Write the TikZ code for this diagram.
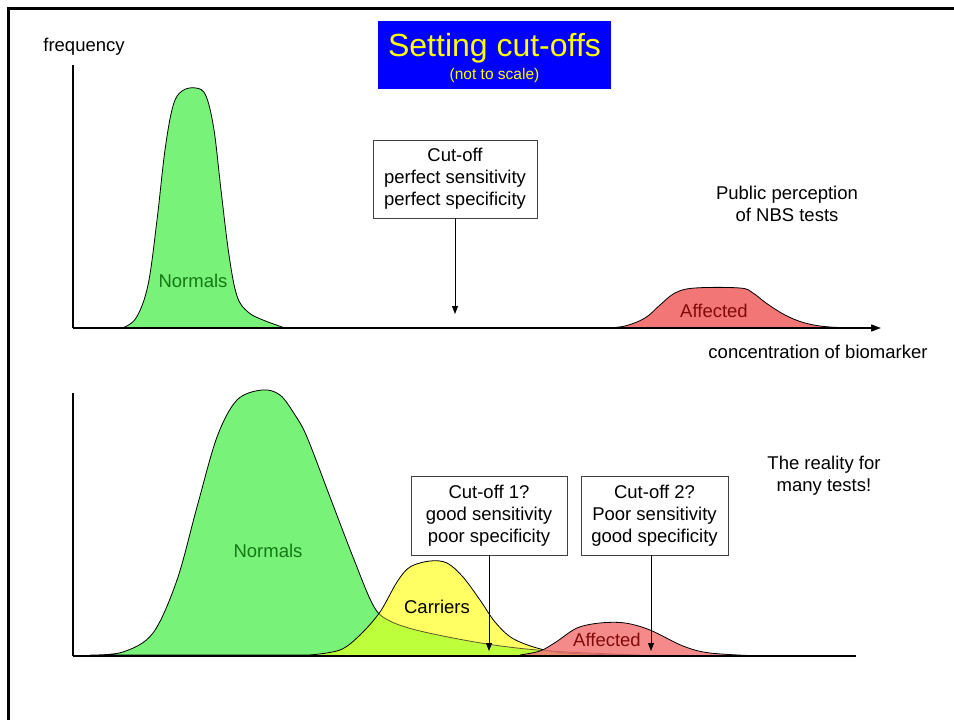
\documentclass[tikz,border=0pt]{standalone}
\usepackage{fontspec}
\setmainfont{Liberation Sans}
\usetikzlibrary{arrows.meta}
\definecolor{ngreen}{RGB}{120,242,120}
\definecolor{nyellow}{RGB}{255,255,100}
\definecolor{gyover}{RGB}{190,255,60}
\definecolor{nred}{RGB}{242,118,118}
\definecolor{dgreen}{RGB}{20,120,20}
\definecolor{dred}{RGB}{130,10,10}
\definecolor{tblue}{RGB}{0,0,255}
\definecolor{tyellow}{RGB}{255,255,0}
\tikzset{
  txt/.style={font=\fontsize{18.5}{22}\selectfont, align=center, inner sep=0pt},
  cutbox/.style={draw=black!75, line width=0.9pt, fill=white, font=\fontsize{18.5}{22}\selectfont, align=center, inner sep=0pt},
  axis/.style={line width=1.6pt, black},
  curve/.style={line width=0.8pt, black},
  pointer/.style={line width=0.9pt, -{Triangle[length=8pt,width=6pt]}},
}
\def\greenpath{plot[smooth, tension=0.55] coordinates {(90,655) (123,652) (153,633) (177,580) (197,507) (217,437) (237,400) (262,390) (280,395) (295,415) (307,437) (330,497) (353,557) (373,605) (388,620) (420,631) (487,644) (550,651) (640,655)}}
\def\yellowpath{plot[smooth, tension=0.55] coordinates {(310,655) (340,650) (360,635) (380,612) (397,582) (410,567) (430,561) (447,563) (463,577) (480,600) (495,622) (512,638) (537,648) (565,653) (620,655)}}
\def\redpath{plot[smooth, tension=0.55] coordinates {(520,655) (540,651) (556,642) (577,628) (600,623) (625,623) (650,630) (683,646) (710,653) (760,656)}}
\begin{document}
\begin{tikzpicture}[x=1pt,y=-1pt]
\useasboundingbox (0,0) rectangle (954,720);
% frame
\draw[line width=3pt] (954,8) -- (8,8) -- (8,720);
% title
\node[fill=tblue, minimum width=233pt, minimum height=68pt, inner sep=0pt] (title) at (494.5,55) {};
\node[text=tyellow, font=\fontsize{32}{34}\selectfont, inner sep=0pt] (ttl) at (494.5,48) {Setting cut-offs};
\node[text=tyellow, font=\fontsize{15.5}{17}\selectfont, inner sep=0pt] (sub) at (494.5,75) {(not to scale)};
\node[txt] (freq) at (84,47) {frequency};

% ---------- top panel ----------
\coordinate (ty0) at (73,65);
\coordinate (to) at (73,328);
\coordinate (tx1) at (881,328);
\filldraw[curve, fill=ngreen] plot[smooth, tension=0.6] coordinates {(122,328) (136,318) (148,285) (157,220) (165,150) (173,106) (182,91) (196,88) (206,96) (214,130) (221,190) (229,255) (237,296) (248,312) (263,320) (285,328)} -- cycle;
\filldraw[curve, fill=nred] plot[smooth, tension=0.6] coordinates {(605,328) (625,326) (645,318) (660,305) (675,293) (695,288) (740,288) (753,293) (766,303) (785,315) (805,323) (830,327) (870,328)} -- cycle;
\draw[axis] (ty0) -- (to);
\draw[axis, -{Triangle[length=10pt,width=7pt]}] (to) -- (tx1);
\node[txt, text=dgreen] (norm1) at (193,281) {Normals};
\node[txt, text=dred] (aff1) at (714,311) {Affected};
\node[cutbox, minimum width=164pt, minimum height=78pt] (cut0) at (455,179) {Cut-off\\perfect sensitivity\\perfect specificity};
\coordinate (cut0tip) at (455,314);
\draw[pointer] (cut0.south) -- (cut0tip);
\node[txt] (pub) at (787,204) {Public perception\\of NBS tests};
\node[txt] (conc) at (818,352) {concentration of biomarker};

% ---------- bottom panel ----------
\coordinate (by0) at (73,393);
\coordinate (bo) at (73,656);
\coordinate (bx1) at (856,656);
\filldraw[curve, fill=ngreen] \greenpath -- cycle;
\fill[nyellow] \yellowpath -- cycle;
\begin{scope}
  \clip \greenpath -- cycle;
  \fill[gyover] \yellowpath -- cycle;
\end{scope}
\begin{scope}
  \clip \yellowpath -- cycle;
  \draw[line width=0.8pt, black!45!olive] \greenpath;
\end{scope}
\draw[curve] \yellowpath;
\fill[nred, fill opacity=0.85] \redpath -- cycle;
\draw[curve] \redpath;
\draw[axis] (by0) -- (bo);
\draw[line width=1.3pt] (bo) -- (bx1);
\node[txt, text=dgreen] (norm2) at (268,551) {Normals};
\node[txt] (car) at (437,607) {Carriers};
\node[txt, text=dred] (aff2) at (607,640) {Affected};
\node[cutbox, minimum width=156pt, minimum height=79pt] (cut1) at (489,515.5) {Cut-off 1?\\good sensitivity\\poor specificity};
\node[cutbox, minimum width=147pt, minimum height=79pt] (cut2) at (654.5,515.5) {Cut-off 2?\\Poor sensitivity\\good specificity};
\coordinate (cut1tip) at (489,651);
\coordinate (cut2tip) at (651,651);
\draw[pointer] (cut1.south) -- (cut1tip);
\draw[pointer] (651,555) -- (cut2tip);
\node[txt] (real) at (824,476) {The reality for\\many tests!};
\end{tikzpicture}
\end{document}
